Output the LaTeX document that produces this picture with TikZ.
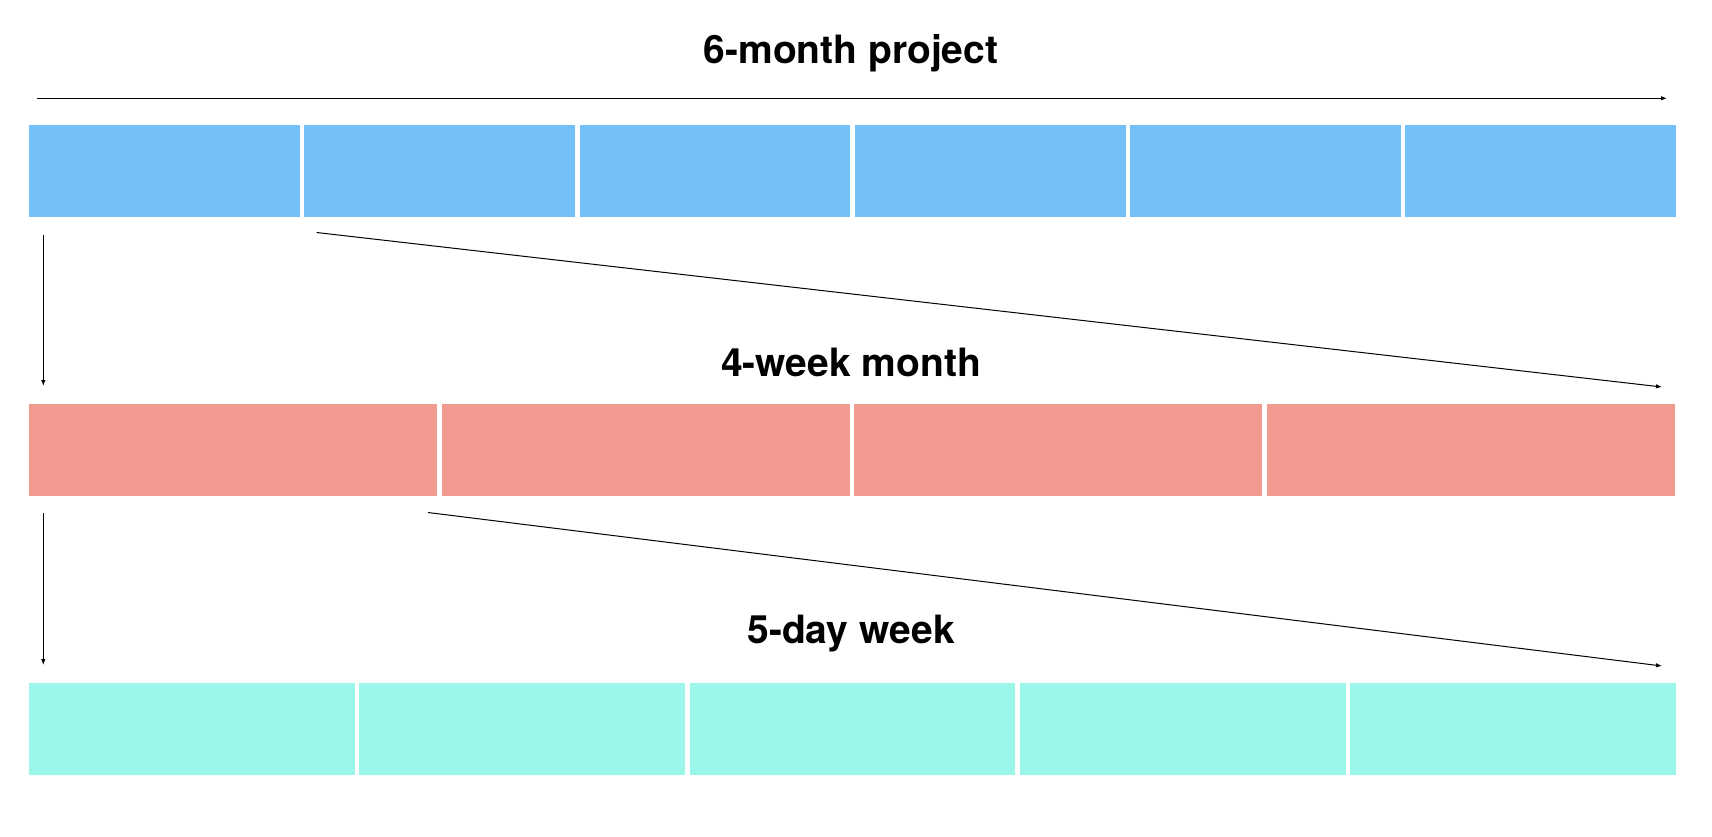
\documentclass[tikz,border=0pt]{standalone}
\usepackage{fontspec}
\setmainfont{TeX Gyre Heros}
\usetikzlibrary{arrows.meta,positioning}

\definecolor{monthblue}{RGB}{115,191,247}
\definecolor{weekred}{RGB}{241,155,144}
\definecolor{daycyan}{RGB}{154,247,233}

\begin{document}
\begin{tikzpicture}[
  x=1pt,y=-1pt,
  node distance=4.5pt,
  seg/.style={rectangle,inner sep=0pt,outer sep=0pt,minimum height=91.5pt},
  title/.style={font=\fontsize{39}{42}\selectfont\bfseries,inner sep=0pt},
  arrow/.style={-{Latex[length=6pt,width=4.5pt]},draw=black,line width=1pt}
]
  \useasboundingbox (0,0) rectangle (1712,836);

  % 6 months
  \node[seg,fill=monthblue,minimum width=270.75pt,anchor=north west] (m1) at (29,125) {};
  \foreach \i [count=\j from 2] in {1,...,5}
    \node[seg,fill=monthblue,minimum width=270.75pt,right=of m\i] (m\j) {};

  % 4 weeks
  \node[seg,fill=weekred,minimum width=408.1pt,anchor=north west] (w1) at (29,404) {};
  \foreach \i [count=\j from 2] in {1,...,3}
    \node[seg,fill=weekred,minimum width=408.1pt,right=of w\i] (w\j) {};

  % 5 days
  \node[seg,fill=daycyan,minimum width=325.8pt,anchor=north west] (d1) at (29,683) {};
  \foreach \i [count=\j from 2] in {1,...,4}
    \node[seg,fill=daycyan,minimum width=325.8pt,right=of d\i] (d\j) {};

  \node[title] (tproj) at (851,53) {6-month project};
  \node[title] (tmonth) at (851,362) {4-week month};
  \node[title] (tweek) at (851,634) {5-day week};

  \coordinate (pstart) at (37,98.3);
  \coordinate (pend) at (1667,98.3);
  \coordinate (mdown) at (43.3,235);
  \coordinate (wtop) at (43.3,386);
  \coordinate (mzoom) at (316.6,232.5);
  \coordinate (wend) at (1662,387);
  \coordinate (wdown) at (43.3,513);
  \coordinate (dtop) at (43.3,665);
  \coordinate (wzoom) at (428,512.5);
  \coordinate (dend) at (1662,666);

  \draw[arrow] (pstart) -- (pend);
  \draw[arrow] (mdown) -- (wtop);
  \draw[arrow] (mzoom) -- (wend);
  \draw[arrow] (wdown) -- (dtop);
  \draw[arrow] (wzoom) -- (dend);
\end{tikzpicture}
\end{document}
